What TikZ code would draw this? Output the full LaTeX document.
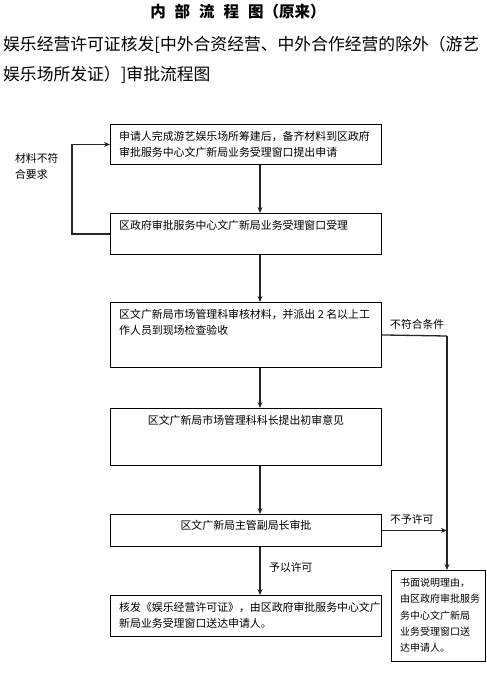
\documentclass[tikz,border=0pt]{standalone}
\usepackage{fontspec}
\setmainfont{Noto Sans CJK SC}
\usetikzlibrary{arrows.meta, positioning}

\tikzset{
  box/.style={draw=black, line width=0.9pt, anchor=north west, minimum width=271pt, inner sep=0pt},
  boxtext/.style={align=left, inner sep=0pt, font=\fontsize{10.9pt}{16.5pt}\selectfont},
  flow/.style={draw=black!85, line width=1.3pt, -{Stealth[length=6pt,width=5pt]}},
  link/.style={draw=black!85, line width=1.3pt},
  note/.style={anchor=west, inner sep=0pt, font=\fontsize{10.8pt}{16.5pt}\selectfont}
}

\begin{document}
\begin{tikzpicture}[x=1pt, y=-1pt]
    \useasboundingbox (0,0) rectangle (487,673);

    \node[font=\fontsize{15.5pt}{18pt}\selectfont\bfseries] (title) at (238,12)
      {内\hspace{9pt}部\hspace{9pt}流\hspace{9pt}程\hspace{9pt}图（原来）};
    \node[anchor=west, inner sep=0pt, align=left, font=\fontsize{16.8pt}{30pt}\selectfont] (subtitle) at (3,60)
      {娱乐经营许可证核发[中外合资经营、中外合作经营的除外（游艺\\娱乐场所发证）]审批流程图};

    \coordinate (spine) at (260,0);
    \coordinate (bend) at (447,336);

    \node[box, minimum height=40pt] (apply) at (110,124) {};
    \node[box, minimum height=41pt] (accept) at (110,213) {};
    \node[box, minimum height=65pt] (inspect) at (110,302) {};
    \node[box, minimum height=57pt] (opinion) at (110,408) {};
    \node[box, minimum height=32pt] (approve) at (110,514) {};
    \node[box, minimum height=41pt] (issue) at (110,595) {};
    \node[box, minimum width=94pt, minimum height=91pt] (reason) at (391,570) {};

    \node[boxtext, anchor=north west] (apply text) at ([shift={(9,7)}]apply.north west)
      {申请人完成游艺娱乐场所筹建后，备齐材料到区政府\\审批服务中心文广新局业务受理窗口提出申请};
    \node[boxtext, anchor=north west] (accept text) at ([shift={(9,7)}]accept.north west)
      {区政府审批服务中心文广新局业务受理窗口受理};
    \node[boxtext, anchor=north west] (inspect text) at ([shift={(9,7)}]inspect.north west)
      {区文广新局市场管理科审核材料，并派出 2 名以上工\\作人员到现场检查验收};
    \node[boxtext, anchor=north] (opinion text) at ([shift={(0,7)}]opinion.north)
      {区文广新局市场管理科科长提出初审意见};
    \node[boxtext, anchor=north] (approve text) at ([shift={(0,6)}]approve.north)
      {区文广新局主管副局长审批};
    \node[boxtext, anchor=north west] (issue text) at ([shift={(9,7)}]issue.north west)
      {核发《娱乐经营许可证》，由区政府审批服务中心文广\\新局业务受理窗口送达申请人。};
    \node[boxtext, anchor=north west, font=\fontsize{10pt}{16.3pt}\selectfont] (reason text) at ([shift={(9,8)}]reason.north west)
      {书面说明理由，\\由区政府审批服务\\务中心文广新局\\业务受理窗口送\\达申请人。};

    \draw[flow] (apply.south -| spine) -- (accept.north -| spine);
    \draw[flow] (accept.south -| spine) -- (inspect.north -| spine);
    \draw[flow] (inspect.south -| spine) -- (opinion.north -| spine);
    \draw[flow] (opinion.south -| spine) -- (approve.north -| spine);
    \draw[flow] (approve.south -| spine) -- (issue.north -| spine);
    \draw[flow] (accept.west) -- ++(-38,0) |- (apply.west);
    \draw[link] (inspect.east) -- (bend);
    \draw[flow] (bend) -- (bend |- reason.north);
    \draw[flow] (approve.east) -- (approve.east -| bend);

    \node[note, anchor=north west, align=left] (mismatch) at (15,153) {材料不符\\合要求};
    \node[note] (unfit) at (390,324) {不符合条件};
    \node[note] (refuse) at (390,519) {不予许可};
    \node[note] (permit) at (269,567) {予以许可};
\end{tikzpicture}
\end{document}
